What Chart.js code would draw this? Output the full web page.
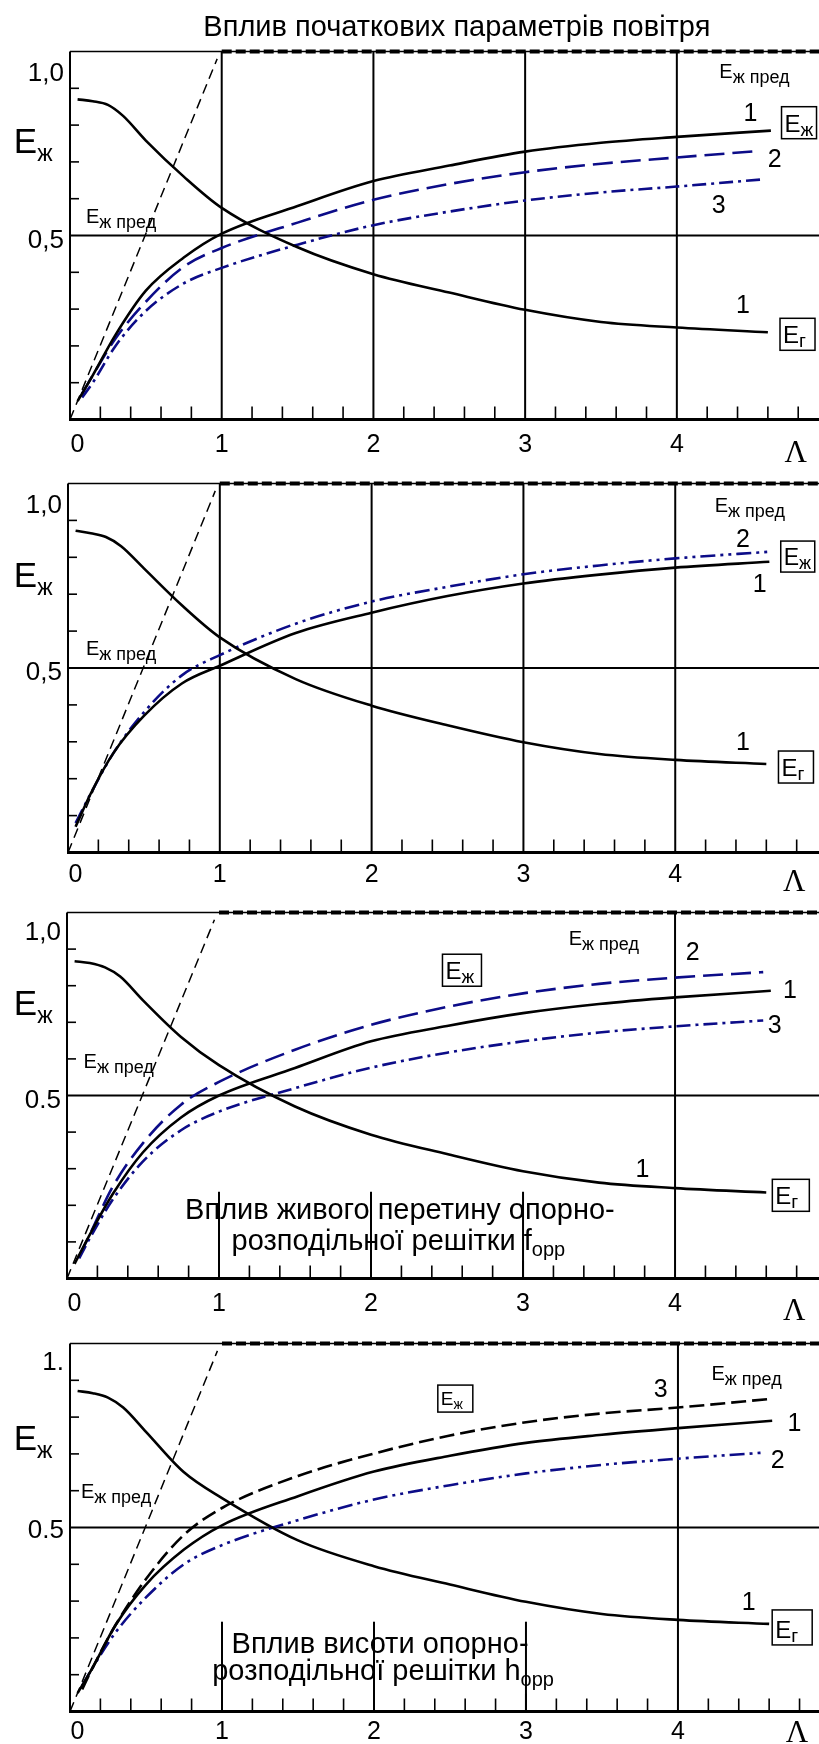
<!DOCTYPE html>
<html>
<head>
<meta charset="utf-8">
<script src="https://cdn.jsdelivr.net/npm/chart.js@4.4.0/dist/chart.umd.min.js"></script>
<style>
  html, body { margin: 0; padding: 0; background: #fff; }
  #wrap { position: relative; width: 819px; height: 1744px; overflow: hidden; }
  #wrap canvas { position: absolute; left: 0; }
</style>
</head>
<body>
<div id="wrap"></div>
<script>
// ---- values (Λ on x, E on y) ----
const xTickVals = [0, 1, 2, 3, 4];
const xTickLabels = ['0', '1', '2', '3', '4'];
const gridX = [1, 2, 3, 4];

// limit line Eж пред: rising part and the level 1.0
const limX = [0, 0.97];
const limY = [0, 0.98];
const limTopX = [1, 5];
const limTopY = [1, 1];

// Eг curves share one Λ grid
const gasX = [0.05, 0.15, 0.25, 0.35, 0.5, 0.75, 1, 1.5, 2, 2.5, 3, 3.5, 4, 4.6];

// panel 1 - air parameters
const p1Gas = [0.87, 0.865, 0.855, 0.825, 0.758, 0.66, 0.575, 0.468, 0.395, 0.345, 0.298, 0.265, 0.25, 0.237];
const p1LiqX = [0.05, 0.15, 0.3, 0.5, 0.75, 1, 1.5, 2, 2.5, 3, 3.5, 4, 4.62];
const p1Liq1 = [0.05, 0.12, 0.23, 0.35, 0.44, 0.505, 0.58, 0.648, 0.69, 0.728, 0.752, 0.768, 0.785];
const p1BlueX = [0.08, 0.15, 0.3, 0.5, 0.75, 1, 1.5, 2, 2.5, 3, 3.5, 4, 4.55];
const p1Liq2 = [0.07, 0.12, 0.22, 0.32, 0.415, 0.466, 0.535, 0.597, 0.64, 0.672, 0.695, 0.712, 0.73];
const p1Liq3 = [0.06, 0.1, 0.2, 0.295, 0.37, 0.412, 0.475, 0.528, 0.565, 0.595, 0.617, 0.633, 0.652];
const p1YLabels = ['1,0', '0,5'];

// panel 2
const p2Gas = [0.872, 0.865, 0.855, 0.83, 0.77, 0.67, 0.583, 0.47, 0.398, 0.345, 0.299, 0.267, 0.251, 0.24];
const p2LiqX = [0.05, 0.15, 0.3, 0.5, 0.75, 1, 1.5, 2, 2.5, 3, 3.5, 4, 4.62];
const p2Liq1 = [0.07, 0.16, 0.27, 0.37, 0.458, 0.506, 0.595, 0.65, 0.695, 0.729, 0.753, 0.772, 0.788];
const p2Liq2 = [0.08, 0.16, 0.27, 0.38, 0.48, 0.535, 0.62, 0.68, 0.72, 0.754, 0.778, 0.797, 0.815];
const p2YLabels = ['1,0', '0,5'];

// panel 3 - free section of the grid f_орр
const p3Gas = [0.867, 0.862, 0.85, 0.825, 0.76, 0.66, 0.583, 0.47, 0.393, 0.34, 0.293, 0.262, 0.247, 0.235];
const p3LiqX = [0.05, 0.15, 0.3, 0.5, 0.75, 1, 1.5, 2, 2.5, 3, 3.5, 4, 4.63];
const p3Liq1 = [0.04, 0.12, 0.23, 0.345, 0.44, 0.5, 0.575, 0.648, 0.69, 0.725, 0.75, 0.768, 0.786];
const p3BlueX = [0.08, 0.15, 0.3, 0.5, 0.75, 1, 1.5, 2, 2.5, 3, 3.5, 4, 4.58];
const p3Liq2 = [0.06, 0.12, 0.25, 0.37, 0.475, 0.537, 0.625, 0.693, 0.742, 0.779, 0.805, 0.822, 0.837];
const p3Liq3 = [0.055, 0.11, 0.215, 0.32, 0.405, 0.456, 0.52, 0.576, 0.617, 0.648, 0.672, 0.689, 0.705];
const p3YLabels = ['1,0', '0.5'];

// panel 4 - grid height h_орр
const p4Gas = [0.871, 0.865, 0.853, 0.826, 0.76, 0.65, 0.58, 0.465, 0.395, 0.345, 0.298, 0.265, 0.249, 0.238];
const p4LiqX = [0.05, 0.15, 0.3, 0.5, 0.75, 1, 1.5, 2, 2.5, 3, 3.5, 4, 4.62];
const p4Liq1 = [0.05, 0.12, 0.235, 0.345, 0.44, 0.506, 0.585, 0.652, 0.695, 0.73, 0.752, 0.77, 0.79];
const p4DashX = [0.08, 0.15, 0.3, 0.5, 0.75, 1, 1.5, 2, 2.5, 3, 3.5, 4, 4.62];
const p4Liq3 = [0.06, 0.12, 0.235, 0.36, 0.48, 0.553, 0.64, 0.701, 0.75, 0.786, 0.81, 0.826, 0.85];
const p4BlueX = [0.08, 0.15, 0.3, 0.5, 0.75, 1, 1.5, 2, 2.5, 3, 3.5, 4, 4.55];
const p4Liq2 = [0.07, 0.12, 0.215, 0.31, 0.4, 0.452, 0.52, 0.576, 0.615, 0.647, 0.67, 0.687, 0.703];
const p4YLabels = ['1.', '0.5'];

// ---- styles ----
const BLACK = '#000';
const BLUE = '#0c0c88';
const SANS = '"Liberation Sans", Arial, sans-serif';
const SERIF = '"Liberation Serif", "Times New Roman", serif';
const DASH = [20, 8];
const DASH_DOT = [14, 5, 3, 5];
const DASH_DOT_DOT = [15, 5, 3, 5, 3, 5];
const font = s => s + 'px ' + SANS;

const panels = [
  {
    top: 0, height: 470, padLeft: 70, padTop: 51.5, padBottom: 50.5, xMax: 4.937, cutY: null,
    yLab: p1YLabels, yLabAt: [0.921, 0.466], xLabY: -0.087, lamAt: [4.71, -0.115],
    series: [
      { x: gasX, y: p1Gas, color: BLACK, dash: [] },
      { x: p1LiqX, y: p1Liq1, color: BLACK, dash: [] },
      { x: p1BlueX, y: p1Liq2, color: BLUE, dash: DASH },
      { x: p1BlueX, y: p1Liq3, color: BLUE, dash: DASH_DOT }
    ],
    notes: [
      { k: 't', s: 'Вплив початкових параметрів повітря', x: 2.55, y: 1.042, size: 29, align: 'center' },
      { k: 'sub', m: 'E', s: 'ж', x: -0.37, y: 0.724, size: 35, sub: 23, drop: 8 },
      { k: 'sub', m: 'E', s: 'ж пред', x: 4.28, y: 0.927, size: 20, sub: 18, drop: 5 },
      { k: 'sub', m: 'E', s: 'ж пред', x: 0.105, y: 0.534, size: 20, sub: 18, drop: 5 },
      { k: 't', s: '1', x: 4.44, y: 0.811, size: 25 },
      { k: 't', s: '2', x: 4.60, y: 0.687, size: 25 },
      { k: 't', s: '3', x: 4.23, y: 0.561, size: 25 },
      { k: 't', s: '1', x: 4.39, y: 0.289, size: 25 },
      { k: 'box', s: 'ж', x: 4.69, y: 0.85, w: 35, h: 32 },
      { k: 'box', s: 'г', x: 4.68, y: 0.275, w: 35, h: 32 }
    ]
  },
  {
    top: 470, height: 430, padLeft: 68, padTop: 13.5, padBottom: 47.5, xMax: 4.947, cutY: null,
    yLab: p2YLabels, yLabAt: [0.92, 0.467], xLabY: -0.081, lamAt: [4.71, -0.105],
    series: [
      { x: gasX, y: p2Gas, color: BLACK, dash: [] },
      { x: p2LiqX, y: p2Liq1, color: BLACK, dash: [] },
      { x: p2LiqX, y: p2Liq2, color: BLUE, dash: DASH_DOT_DOT }
    ],
    notes: [
      { k: 'sub', m: 'E', s: 'ж', x: -0.357, y: 0.72, size: 35, sub: 23, drop: 8 },
      { k: 'sub', m: 'E', s: 'ж пред', x: 4.26, y: 0.924, size: 20, sub: 18, drop: 5 },
      { k: 'sub', m: 'E', s: 'ж пред', x: 0.118, y: 0.535, size: 20, sub: 18, drop: 5 },
      { k: 't', s: '2', x: 4.40, y: 0.829, size: 25 },
      { k: 't', s: '1', x: 4.51, y: 0.707, size: 25 },
      { k: 't', s: '1', x: 4.40, y: 0.277, size: 25 },
      { k: 'box', s: 'ж', x: 4.695, y: 0.844, w: 34, h: 31 },
      { k: 'box', s: 'г', x: 4.68, y: 0.275, w: 35, h: 32 }
    ]
  },
  {
    top: 900, height: 430, padLeft: 67, padTop: 12.5, padBottom: 51.5, xMax: 4.947, cutY: 0.237,
    yLab: p3YLabels, yLabAt: [0.925, 0.466], xLabY: -0.088, lamAt: [4.71, -0.113],
    series: [
      { x: gasX, y: p3Gas, color: BLACK, dash: [] },
      { x: p3LiqX, y: p3Liq1, color: BLACK, dash: [] },
      { x: p3BlueX, y: p3Liq2, color: BLUE, dash: DASH },
      { x: p3BlueX, y: p3Liq3, color: BLUE, dash: DASH_DOT }
    ],
    notes: [
      { k: 'sub', m: 'E', s: 'ж', x: -0.35, y: 0.72, size: 35, sub: 23, drop: 8 },
      { k: 'sub', m: 'E', s: 'ж пред', x: 3.30, y: 0.911, size: 20, sub: 18, drop: 5 },
      { k: 'sub', m: 'E', s: 'ж пред', x: 0.109, y: 0.575, size: 20, sub: 18, drop: 5 },
      { k: 't', s: '2', x: 4.07, y: 0.87, size: 25 },
      { k: 't', s: '1', x: 4.71, y: 0.766, size: 25 },
      { k: 't', s: '3', x: 4.61, y: 0.67, size: 25 },
      { k: 't', s: '1', x: 3.74, y: 0.278, size: 25 },
      { k: 'box', s: 'ж', x: 2.47, y: 0.886, w: 39, h: 32 },
      { k: 'box', s: 'г', x: 4.64, y: 0.271, w: 37, h: 32 },
      { k: 't', s: 'Вплив живого перетину опорно-', x: 2.19, y: 0.162, size: 29, align: 'center' },
      { k: 'sub', m: 'розподільної решітки f', s: 'орр', x: 2.18, y: 0.078, size: 29, sub: 20, drop: 6, align: 'center' }
    ]
  },
  {
    top: 1330, height: 414, padLeft: 70, padTop: 13.5, padBottom: 32.5, xMax: 4.928, cutY: 0.244,
    yLab: p4YLabels, yLabAt: [0.928, 0.472], xLabY: -0.075, lamAt: [4.71, -0.082],
    series: [
      { x: gasX, y: p4Gas, color: BLACK, dash: [] },
      { x: p4LiqX, y: p4Liq1, color: BLACK, dash: [] },
      { x: p4DashX, y: p4Liq3, color: BLACK, dash: [15, 6] },
      { x: p4BlueX, y: p4Liq2, color: BLUE, dash: DASH_DOT_DOT }
    ],
    notes: [
      { k: 'sub', m: 'E', s: 'ж', x: -0.37, y: 0.71, size: 35, sub: 23, drop: 8 },
      { k: 'sub', m: 'E', s: 'ж пред', x: 4.22, y: 0.90, size: 20, sub: 18, drop: 5 },
      { k: 'sub', m: 'E', s: 'ж пред', x: 0.072, y: 0.58, size: 20, sub: 18, drop: 5 },
      { k: 't', s: '3', x: 3.84, y: 0.855, size: 25 },
      { k: 't', s: '1', x: 4.72, y: 0.763, size: 25 },
      { k: 't', s: '2', x: 4.61, y: 0.662, size: 25 },
      { k: 't', s: '1', x: 4.42, y: 0.276, size: 25 },
      { k: 'box', s: 'ж', x: 2.42, y: 0.887, w: 35, h: 27 },
      { k: 'box', s: 'г', x: 4.62, y: 0.276, w: 40, h: 35 },
      { k: 't', s: 'Вплив висоти опорно-', x: 2.04, y: 0.158, size: 29, align: 'center' },
      { k: 'sub', m: 'розподільної решітки h', s: 'орр', x: 2.06, y: 0.086, size: 29, sub: 20, drop: 6, align: 'center' }
    ]
  }
];

const pts = (xs, ys) => xs.map((v, i) => ({ x: v, y: ys[i] }));

function seg(ctx, x1, y1, x2, y2) {
  ctx.beginPath();
  ctx.moveTo(x1, y1);
  ctx.lineTo(x2, y2);
  ctx.stroke();
}

// main text with a lowered subscript after it
function drawSub(ctx, x, y, main, sub, size, subSize, drop, align) {
  ctx.font = font(size);
  const wm = ctx.measureText(main).width;
  ctx.font = font(subSize);
  const ws = ctx.measureText(sub).width;
  let x0 = x;
  if (align === 'center') x0 = x - (wm + ws) / 2;
  ctx.textAlign = 'left';
  ctx.font = font(size);
  ctx.fillText(main, x0, y);
  ctx.font = font(subSize);
  ctx.fillText(sub, x0 + wm, y + drop);
}

function makeDecor(P) {
  return {
    id: 'decor',
    beforeDatasetsDraw(chart) {
      const { ctx, chartArea: a } = chart;
      const sx = chart.scales.x, sy = chart.scales.y;
      ctx.save();
      ctx.strokeStyle = BLACK;
      ctx.lineWidth = 2;
      const y05 = sy.getPixelForValue(0.5);
      seg(ctx, a.left, y05, a.right, y05);
      for (const v of gridX) {
        const px = sx.getPixelForValue(v);
        const cut = P.cutY != null && v < 4;
        seg(ctx, px, a.bottom, px, cut ? sy.getPixelForValue(P.cutY) : a.top);
        if (cut) seg(ctx, px, a.bottom, px, a.bottom - 18);
      }
      // minor ticks
      ctx.lineWidth = 1.6;
      for (let i = 1; i * 0.2 < sx.max; i++) {
        if (i % 5 === 0) continue;
        const px = sx.getPixelForValue(i * 0.2);
        seg(ctx, px, a.bottom, px, a.bottom - 13);
      }
      for (let i = 1; i < 10; i++) {
        if (i === 5) continue;
        const py = sy.getPixelForValue(i / 10);
        seg(ctx, a.left, py, a.left + 9, py);
      }
      ctx.restore();
    },
    afterDatasetsDraw(chart) {
      const { ctx, chartArea: a } = chart;
      const sx = chart.scales.x, sy = chart.scales.y;
      ctx.save();
      ctx.strokeStyle = BLACK;
      ctx.fillStyle = BLACK;
      // frame
      ctx.lineWidth = 2;
      seg(ctx, a.left, a.top, a.left, a.bottom + 1);
      ctx.lineWidth = 1.5;
      seg(ctx, a.left, a.top, a.right, a.top);
      ctx.lineWidth = 3;
      seg(ctx, a.left - 1, a.bottom, a.right, a.bottom);

      // tick labels
      ctx.font = font(25);
      ctx.textAlign = 'center';
      ctx.textBaseline = 'alphabetic';
      const ly = sy.getPixelForValue(P.xLabY);
      xTickVals.forEach((v, i) => {
        ctx.fillText(xTickLabels[i], sx.getPixelForValue(v) + (v === 0 ? 7.5 : 0), ly);
      });
      ctx.textAlign = 'right';
      ctx.font = font(26);
      P.yLab.forEach((t, i) => ctx.fillText(t, a.left - 6, sy.getPixelForValue(P.yLabAt[i])));
      ctx.textAlign = 'left';
      ctx.font = '31px ' + SERIF;
      ctx.fillText('Λ', sx.getPixelForValue(P.lamAt[0]), sy.getPixelForValue(P.lamAt[1]));

      // annotations
      for (const n of P.notes) {
        const px = sx.getPixelForValue(n.x), py = sy.getPixelForValue(n.y);
        if (n.k === 't') {
          ctx.font = font(n.size);
          ctx.textAlign = n.align || 'left';
          ctx.fillText(n.s, px, py);
        } else if (n.k === 'sub') {
          drawSub(ctx, px, py, n.m, n.s, n.size, n.sub, n.drop, n.align);
        } else if (n.k === 'box') {
          ctx.lineWidth = 1.5;
          ctx.strokeRect(px, py, n.w, n.h);
          const es = Math.min(24, n.h - 8);
          drawSub(ctx, px + 3, py + n.h - 7, 'E', n.s, es, es - 5, 4);
        }
      }
      ctx.restore();
    }
  };
}

const wrap = document.getElementById('wrap');
panels.forEach(P => {
  const cv = document.createElement('canvas');
  cv.width = 819;
  cv.height = P.height;
  cv.style.top = P.top + 'px';
  wrap.appendChild(cv);

  const datasets = P.series.map(s => ({
    data: pts(s.x, s.y),
    borderColor: s.color,
    borderWidth: 2.6,
    borderDash: s.dash,
    cubicInterpolationMode: 'monotone',
    pointRadius: 0,
    showLine: true,
    fill: false
  }));
  // Eж пред limit line
  datasets.push({
    data: pts(limX, limY), borderColor: BLACK, borderWidth: 1.5, borderDash: [10, 6],
    pointRadius: 0, showLine: true, tension: 0, fill: false
  });
  datasets.push({
    data: pts(limTopX, limTopY), borderColor: BLACK, borderWidth: 4, borderDash: [10, 4],
    pointRadius: 0, showLine: true, tension: 0, fill: false,
    clip: { left: 0, top: 6, right: 0, bottom: 0 }
  });

  new Chart(cv, {
    type: 'scatter',
    data: { datasets },
    options: {
      responsive: false,
      animation: false,
      events: [],
      layout: { padding: { left: P.padLeft, right: 0, top: P.padTop, bottom: P.padBottom } },
      plugins: { legend: { display: false }, tooltip: { enabled: false } },
      scales: {
        x: { type: 'linear', min: 0, max: P.xMax, display: false },
        y: { type: 'linear', min: 0, max: 1, display: false }
      }
    },
    plugins: [makeDecor(P)]
  });
});
</script>
</body>
</html>
